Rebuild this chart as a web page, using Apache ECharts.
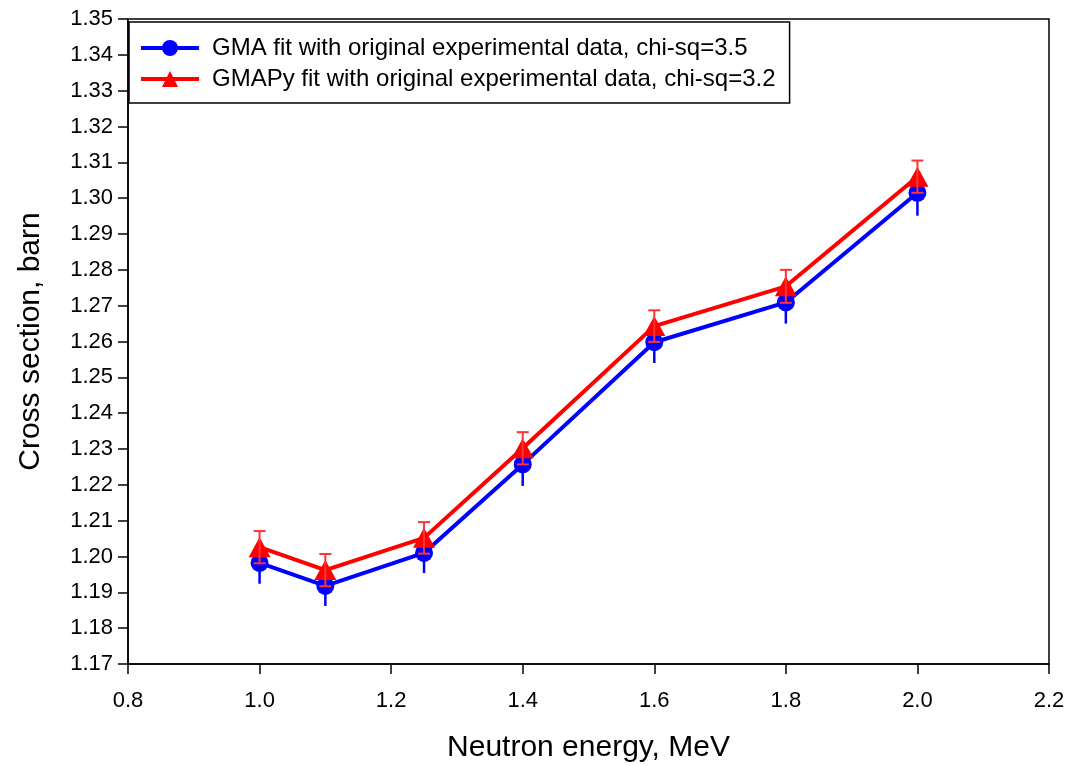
<!DOCTYPE html>
<html>
<head>
<meta charset="utf-8">
<script src="https://cdn.jsdelivr.net/npm/echarts@6/dist/echarts.min.js"></script>
<style>html,body{margin:0;padding:0;background:#fff}#c{width:1070px;height:765px}</style>
</head>
<body>
<div id="c"></div>
<script>
const energies = [1.0, 1.1, 1.25, 1.4, 1.6, 1.8, 2.0];
const gmaValues = [1.1982, 1.1918, 1.2010, 1.2257, 1.2598, 1.2709, 1.3015];
const gmaErrors = [0.0058, 0.0056, 0.0056, 0.0060, 0.0058, 0.0059, 0.0064];
const gmapyValues = [1.2026, 1.1962, 1.2052, 1.2302, 1.2643, 1.2754, 1.3060];
const gmapyErrors = [0.0045, 0.0045, 0.0044, 0.0045, 0.0044, 0.0046, 0.0045];
const xTicks = {min: 0.8, max: 2.2, interval: 0.2};
const yTicks = {min: 1.17, max: 1.35, interval: 0.01};
const seriesNames = ['GMA fit with original experimental data, chi-sq=3.5', 'GMAPy fit with original experimental data, chi-sq=3.2'];

const FONT = 'Liberation Sans, Arial, sans-serif';

function errData(vals, errs) {
  return energies.map((e, i) => [e, vals[i] - errs[i], vals[i] + errs[i]]);
}
function makeErr(color, capW, width) {
  return function (params, api) {
    const x = api.value(0);
    const lo = api.coord([x, api.value(1)]);
    const hi = api.coord([x, api.value(2)]);
    const style = {stroke: color, lineWidth: width};
    const children = [{type: 'line', shape: {x1: lo[0], y1: lo[1], x2: hi[0], y2: hi[1]}, style}];
    if (capW > 0) {
      children.push({type: 'line', shape: {x1: lo[0] - capW / 2, y1: lo[1], x2: lo[0] + capW / 2, y2: lo[1]}, style});
      children.push({type: 'line', shape: {x1: hi[0] - capW / 2, y1: hi[1], x2: hi[0] + capW / 2, y2: hi[1]}, style});
    }
    return {type: 'group', children};
  };
}

const chart = echarts.init(document.getElementById('c'));
chart.setOption({
  animation: false,
  backgroundColor: '#fff',
  grid: {left: 128, right: 21, top: 19, bottom: 101, show: true, borderColor: '#000', borderWidth: 1.5,
         backgroundColor: 'transparent', containLabel: false, outerBoundsMode: 'none'},
  legend: {
    left: 129, top: 22, orient: 'vertical',
    borderColor: '#000', borderWidth: 1.5, backgroundColor: '#fff',
    padding: [14, 14, 12, 10], itemGap: 7, itemWidth: 58, itemHeight: 20,
    lineStyle: {width: 4},
    textStyle: {fontFamily: FONT, fontSize: 24, color: '#000', padding: [0, 0, 0, 8]},
    data: seriesNames
  },
  xAxis: {
    type: 'value', min: xTicks.min, max: xTicks.max, interval: xTicks.interval,
    name: 'Neutron energy, MeV', nameLocation: 'middle', nameGap: 69,
    nameTextStyle: {fontFamily: FONT, fontSize: 30, color: '#000'},
    axisLine: {show: true, lineStyle: {color: '#000', width: 1.5}},
    axisTick: {show: true, inside: false, length: 10, lineStyle: {color: '#000', width: 1.5}},
    axisLabel: {fontFamily: FONT, fontSize: 22, color: '#000', margin: 26, formatter: v => v.toFixed(1)},
    splitLine: {show: false}
  },
  yAxis: {
    type: 'value', min: yTicks.min, max: yTicks.max, interval: yTicks.interval,
    name: 'Cross section, barn', nameLocation: 'middle', nameGap: 82,
    nameTextStyle: {fontFamily: FONT, fontSize: 30, color: '#000'},
    axisLine: {show: true, lineStyle: {color: '#000', width: 1.5}},
    axisTick: {show: true, inside: false, length: 10, lineStyle: {color: '#000', width: 1.5}},
    axisLabel: {fontFamily: FONT, fontSize: 22, color: '#000', margin: 15, formatter: v => v.toFixed(2)},
    splitLine: {show: false}
  },
  series: [
    {
      name: seriesNames[0], type: 'line', z: 2,
      data: energies.map((e, i) => [e, gmaValues[i]]),
      symbol: 'circle', symbolSize: 18,
      itemStyle: {color: '#0000ff'}, lineStyle: {color: '#0000ff', width: 4}
    },
    {
      type: 'custom', z: 3, silent: true,
      data: errData(gmaValues, gmaErrors),
      encode: {x: 0, y: [1, 2]},
      renderItem: makeErr('#0000ff', 0, 2.5)
    },
    {
      name: seriesNames[1], type: 'line', z: 4,
      data: energies.map((e, i) => [e, gmapyValues[i]]),
      symbol: 'triangle', symbolSize: [22, 20],
      itemStyle: {color: '#ff0000'}, lineStyle: {color: '#ff0000', width: 4}
    },
    {
      type: 'custom', z: 5, silent: true,
      data: errData(gmapyValues, gmapyErrors),
      encode: {x: 0, y: [1, 2]},
      renderItem: makeErr('#ff3333', 12, 2)
    }
  ]
});
</script>
</body>
</html>
